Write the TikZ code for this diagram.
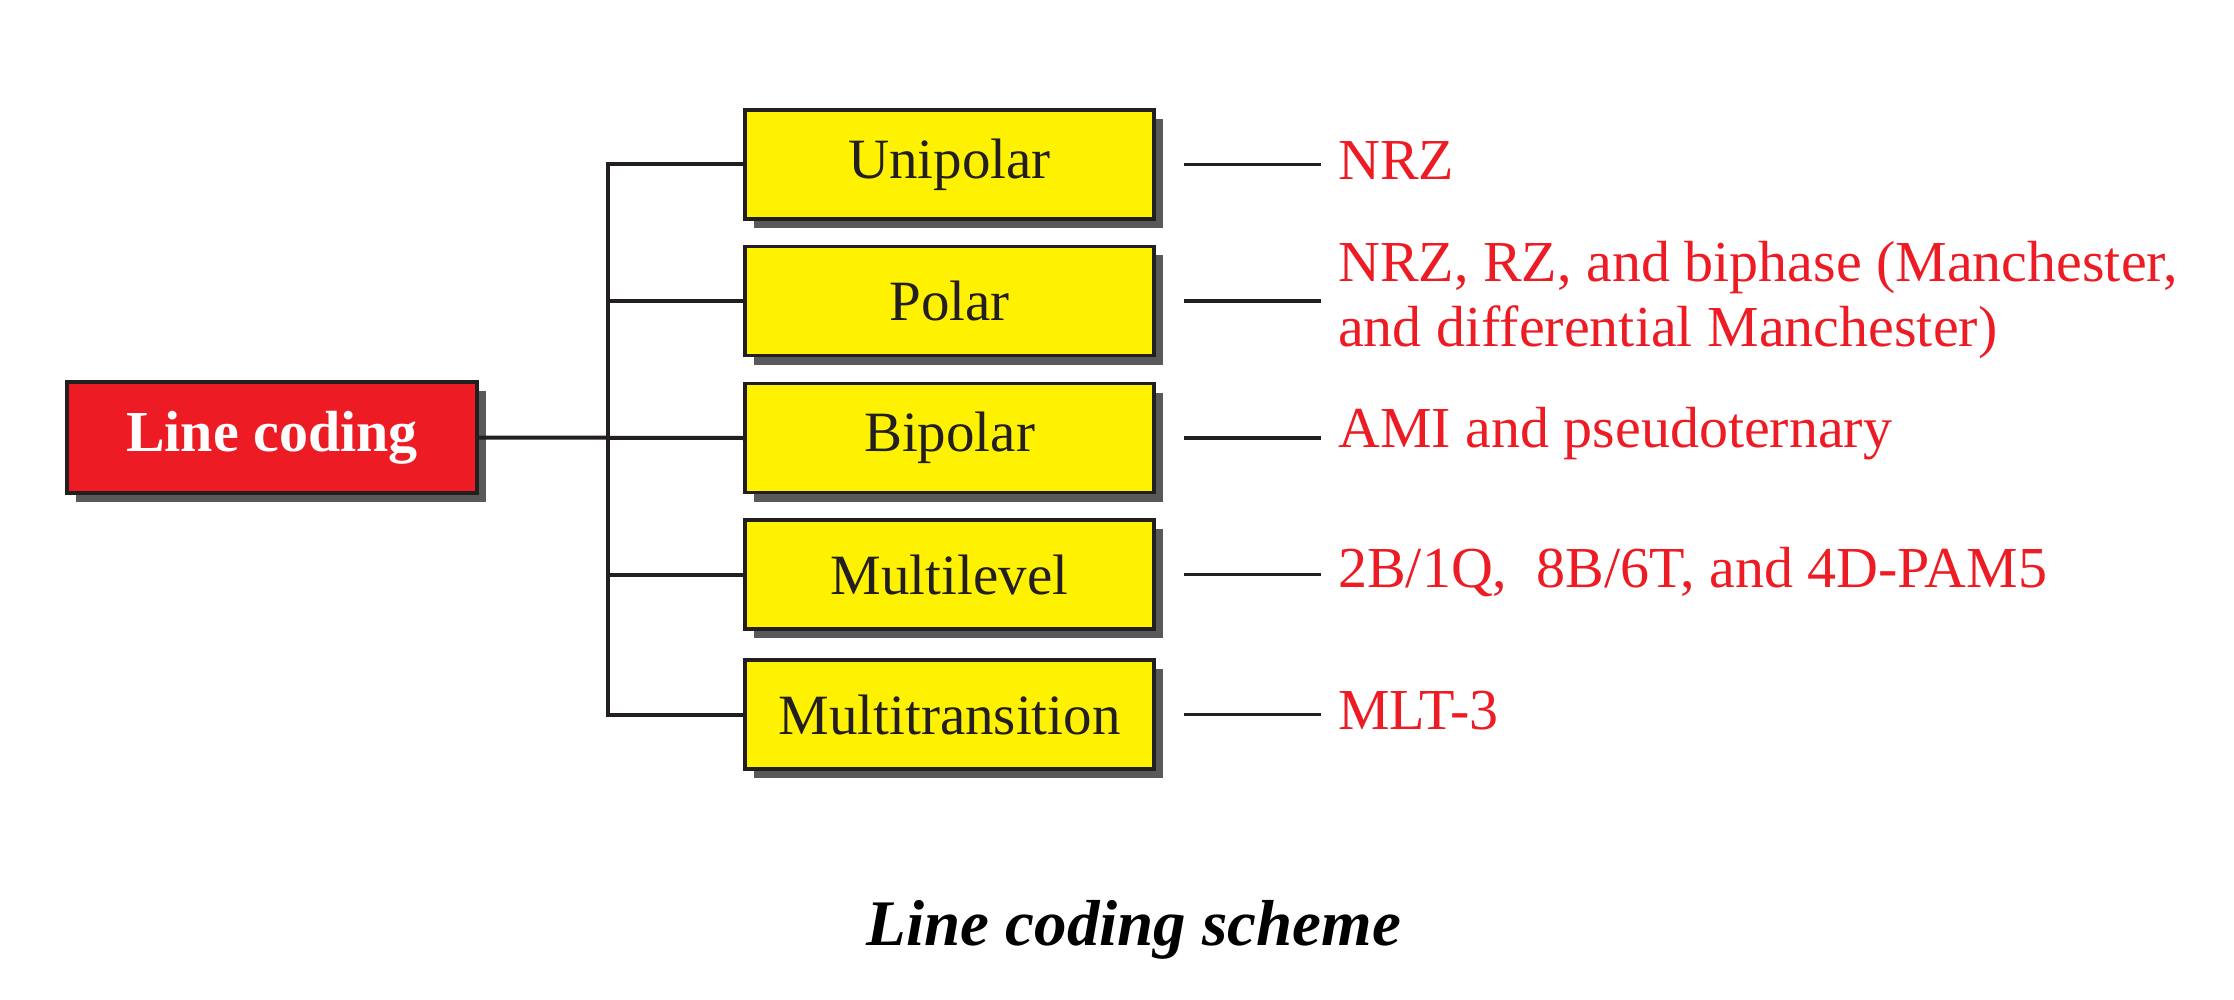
\documentclass[tikz,border=0pt]{standalone}
\usepackage{fontspec}
\setmainfont{Liberation Serif}
\usetikzlibrary{shadows}
\definecolor{boxred}{HTML}{ED1C24}
\definecolor{boxyellow}{HTML}{FFF200}
\definecolor{txtred}{HTML}{ED1C24}
\definecolor{ink}{HTML}{231F20}
\definecolor{shadowgrey}{HTML}{58595B}
\tikzset{
  basebox/.style={draw=ink, line width=3.2pt, rectangle, inner sep=0pt,
    drop shadow={shadow xshift=9pt, shadow yshift=-9pt, fill=shadowgrey, opacity=1},
    font=\fontsize{57}{64}\selectfont},
  redbox/.style={basebox, fill=boxred, text=white, minimum width=410pt, minimum height=111pt, font=\fontsize{58}{64}\selectfont\bfseries},
  ybox/.style={basebox, fill=boxyellow, text=ink, minimum width=409pt, minimum height=109pt},
  conn/.style={draw=ink, line width=4pt},
  thin conn/.style={draw=ink, line width=3.5pt},
  redtext/.style={text=txtred, anchor=west, inner sep=0pt, align=left, font=\fontsize{58}{65}\selectfont},
  captext/.style={text=black, inner sep=0pt, font=\fontsize{65}{70}\selectfont\bfseries\itshape}
}
\begin{document}
\begin{tikzpicture}[x=1pt,y=-1pt]
\useasboundingbox[fill=white] (0,0) rectangle (2234,1000);
% left and branch boxes
\node[redbox] (lc) at (272,437.5) {Line coding};
\node[ybox] (uni) at (949.5,164.5) {Unipolar};
\node[ybox] (pol) at (949.5,301) {Polar};
\node[ybox] (bip) at (949.5,438) {Bipolar};
\node[ybox] (mlv) at (949.5,574.5) {Multilevel};
\node[ybox] (mtr) at (949.5,714.5) {Multitransition};
\coordinate (sp) at (608,0);
% tree connectors
\draw[conn, line cap=rect] (uni.west -| sp) -- (mtr.west -| sp);
\draw[conn] (lc.east) -- (bip.west);
\foreach \b in {uni,pol,mlv,mtr}{
  \draw[conn] (\b.west -| sp) -- (\b.west);
}
% right-hand texts
\node[redtext] (t1) at (1338,161) {NRZ};
\node[redtext] (t2) at (1338,300) {NRZ, RZ, and biphase (Manchester,\\and differential Manchester)};
\node[redtext] (t3) at (1338,434) {AMI and pseudoternary};
\node[redtext] (t4) at (1338,572) {2B/1Q,\ \ 8B/6T, and 4D-PAM5};
\node[redtext] (t5) at (1338,711) {MLT-3};
\foreach \b/\t in {uni/t1,pol/t2,bip/t3,mlv/t4,mtr/t5}{
  \coordinate (\b r1) at ([xshift=28pt]\b.east);
  \coordinate (\b r2) at (1321,0);
  \draw[thin conn] (\b r1) -- (\b r1 -| \b r2);
}
% caption
\node[captext] (cap) at (1134,930) {Line coding scheme};
\end{tikzpicture}
\end{document}
